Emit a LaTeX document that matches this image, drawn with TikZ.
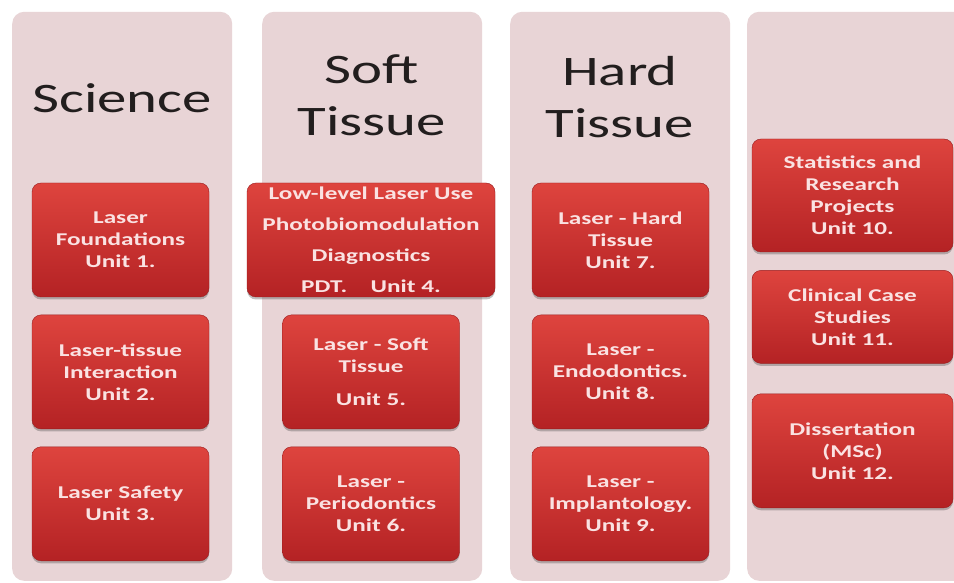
\documentclass[tikz,border=0pt]{standalone}
\usepackage{fontspec}
\setmainfont{Carlito}[FakeStretch=1.4]
\usepackage{tikz}
\usetikzlibrary{positioning, shadows}
\definecolor{colpink}{RGB}{232,212,214}
\definecolor{unittop}{RGB}{222,68,62}
\definecolor{unitbot}{RGB}{180,34,36}
\definecolor{unittext}{RGB}{250,226,226}
\definecolor{titlegray}{RGB}{34,30,30}
\tikzset{
    column/.style={rectangle, rounded corners=12pt, fill=colpink, anchor=south west, minimum width=220pt, minimum height=569pt, inner sep=0pt},
    titletext/.style={text=titlegray, align=center, font=\fontsize{42}{52}\selectfont},
    unitbox/.style={rectangle, rounded corners=9pt, top color=unittop, bottom color=unitbot, draw=unitbot!85!black, line width=0.4pt, text=unittext, align=center, font=\bfseries\fontsize{18}{22}\selectfont, minimum width=177pt, minimum height=114pt, inner sep=2pt, drop shadow={shadow xshift=0pt, shadow yshift=-2.5pt, opacity=0.35, fill=black!70}},
    widebox/.style={unitbox, minimum width=201pt}
}
\begin{document}
\begin{tikzpicture}[x=1pt, y=1pt, node distance=17.5pt]
    \useasboundingbox (0,0) rectangle (954,582);
    \fill[white] (0,0) rectangle (954,582);

    % Columns
    \node (col1) [column] at (12,1) {};
    \node (col2) [column] at (262,1) {};
    \node (col3) [column] at (510,1) {};
    \node (col4) [column] at (747,1) {};

    % Titles
    \node (science) [titletext] at (122,484) {Science};
    \node (soft) [titletext] at (372,487) {Soft\\Tissue};
    \node (hard) [titletext] at (620,485) {Hard\\Tissue};

    % Units
    \node (u1) [unitbox] at (120.5,342) {Laser\\Foundations\\Unit 1.};
    \node (u2) [unitbox, below=of u1] {Laser-tissue\\Interaction\\Unit 2.};
    \node (u3) [unitbox, below=of u2] {Laser Safety\\Unit 3.};

    \node (u4) [unitbox, minimum width=248pt, inner sep=0pt, font=\bfseries\fontsize{18}{31}\selectfont] at (371,342) {Low-level Laser Use\\Photobiomodulation\\Diagnostics\\PDT.\hspace{1.3em}Unit 4.};
    \node (u5) [unitbox, below=of u4] {Laser - Soft\\Tissue\\[11pt]Unit 5.};
    \node (u6) [unitbox, below=of u5] {Laser -\\Periodontics\\Unit 6.};

    \node (u7) [unitbox] at (620.5,342) {Laser - Hard\\Tissue\\Unit 7.};
    \node (u8) [unitbox, below=of u7] {Laser -\\Endodontics.\\Unit 8.};
    \node (u9) [unitbox, below=of u8] {Laser -\\Implantology.\\Unit 9.};

    \node (u10) [widebox, minimum height=113pt] at (852.5,386.5) {Statistics and\\Research\\Projects\\Unit 10.};
    \node (u11) [widebox, minimum height=93pt, below=18pt of u10] {Clinical Case\\Studies\\Unit 11.};
    \node (u12) [widebox, below=30pt of u11] {Dissertation\\(MSc)\\Unit 12.};
\end{tikzpicture}
\end{document}
